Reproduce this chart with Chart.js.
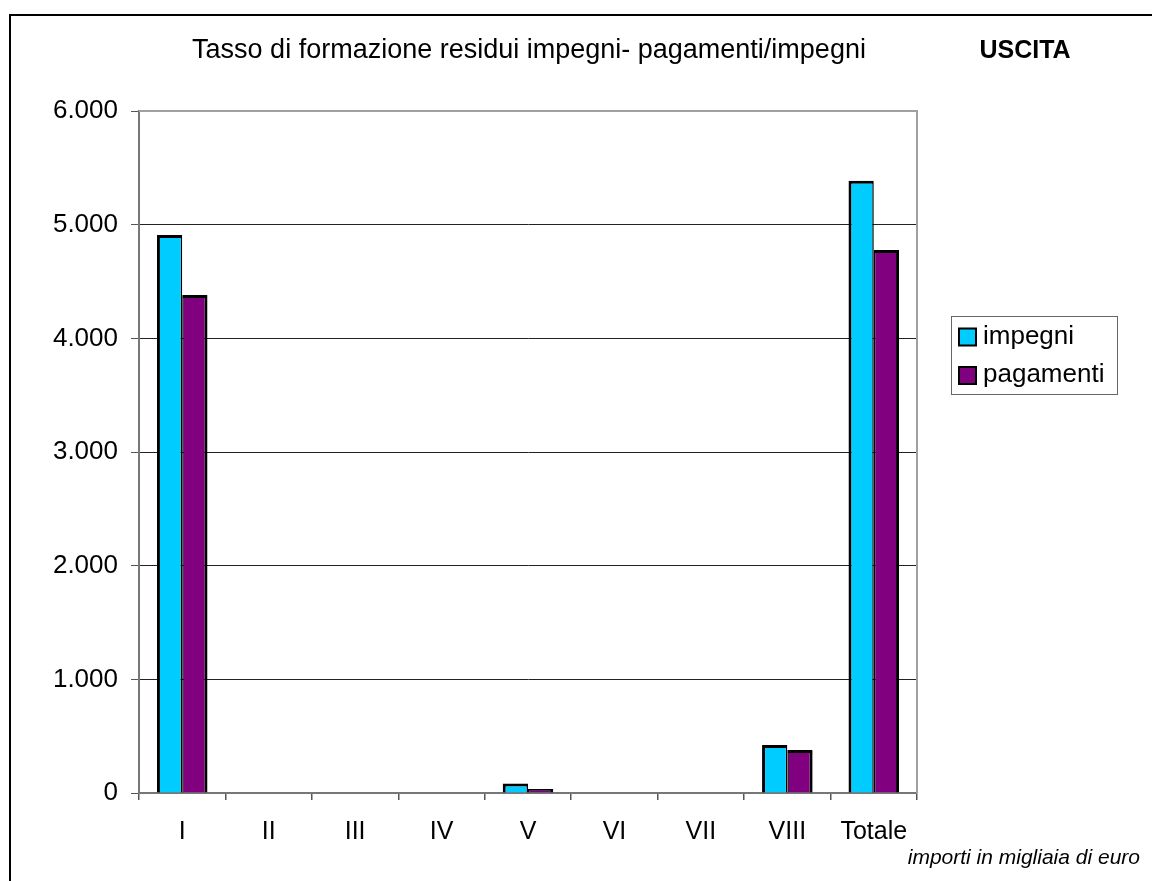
<!DOCTYPE html>
<html>
<head>
<meta charset="utf-8">
<script src="https://cdn.jsdelivr.net/npm/chart.js@4/dist/chart.umd.min.js"></script>
<style>
  body { margin: 0; background: #fff; }
  canvas { display: block; }
</style>
</head>
<body>
<canvas id="grafico" width="1152" height="881"></canvas>
<script>
const FONT = '"Liberation Sans", Arial, sans-serif';

const categorie = ['I', 'II', 'III', 'IV', 'V', 'VI', 'VII', 'VIII', 'Totale'];
const impegni = [4910, 0, 0, 0, 84, 0, 0, 422, 5387];
const pagamenti = [4381, 0, 0, 0, 35, 0, 0, 378, 4777];
const tickValori = [0, 1000, 2000, 3000, 4000, 5000, 6000];

const titolo = 'Tasso di formazione residui impegni- pagamenti/impegni';
const etichetta = 'USCITA';
const nota = 'importi in migliaia di euro';

const formatta = (v) => String(v).replace(/\B(?=(\d{3})+(?!\d))/g, '.');

// cornice, titolo, legenda e nota
const decorazioni = {
  id: 'decorazioni',
  afterDraw(chart) {
    const ctx = chart.ctx;
    const area = chart.chartArea;
    ctx.save();

    ctx.strokeStyle = '#000';
    ctx.lineWidth = 2;
    ctx.strokeRect(10, 15, 1300, 1000);

    // bordo area del grafico (alto e destra)
    ctx.strokeStyle = '#a0a0a0';
    ctx.lineWidth = 2;
    ctx.beginPath();
    ctx.moveTo(area.left, area.top);
    ctx.lineTo(area.right, area.top);
    ctx.lineTo(area.right, area.bottom);
    ctx.stroke();

    ctx.fillStyle = '#000';
    ctx.textBaseline = 'alphabetic';
    ctx.textAlign = 'center';
    ctx.font = '27px ' + FONT;
    ctx.fillText(titolo, (area.left + area.right) / 2 + 1, 58);
    ctx.font = 'bold 25px ' + FONT;
    ctx.fillText(etichetta, 1025, 58);

    // legenda
    ctx.strokeStyle = '#666';
    ctx.lineWidth = 1;
    ctx.strokeRect(951.5, 316.5, 166, 78);
    ctx.textAlign = 'left';
    ctx.textBaseline = 'middle';
    ctx.font = '26px ' + FONT;
    chart.data.datasets.forEach((ds, i) => {
      const y = 336.5 + i * 38.5;
      ctx.fillStyle = ds.backgroundColor;
      ctx.fillRect(959, y - 8, 17, 17);
      ctx.strokeStyle = '#000';
      ctx.lineWidth = 2;
      ctx.strokeRect(959, y - 8, 17, 17);
      ctx.fillStyle = '#000';
      ctx.fillText(ds.label, 983, y);
    });

    ctx.textAlign = 'right';
    ctx.textBaseline = 'alphabetic';
    ctx.font = 'italic 21px ' + FONT;
    ctx.fillText(nota, 1140, 864);
    ctx.restore();
  }
};

new Chart(document.getElementById('grafico'), {
  type: 'bar',
  data: {
    labels: categorie,
    datasets: [
      {
        label: 'impegni',
        data: impegni,
        backgroundColor: '#00CCFF',
        borderColor: '#000',
        borderWidth: { top: 3, left: 3, right: 1.5, bottom: 0 },
        borderSkipped: 'start'
      },
      {
        label: 'pagamenti',
        data: pagamenti,
        backgroundColor: '#800080',
        borderColor: '#000',
        borderWidth: { top: 3, left: 1.5, right: 3, bottom: 0 },
        borderSkipped: 'start'
      }
    ]
  },
  options: {
    responsive: false,
    animation: false,
    layout: { padding: { top: 111, right: 235, bottom: 0, left: 0 } },
    plugins: {
      legend: { display: false },
      tooltip: { enabled: false }
    },
    datasets: {
      bar: { categoryPercentage: 0.585, barPercentage: 1 }
    },
    scales: {
      x: {
        afterFit: (scale) => { scale.height = 88; },
        grid: {
          drawOnChartArea: false,
          drawTicks: true,
          tickLength: 7,
          color: '#555',
          lineWidth: 1.5
        },
        border: { color: '#777', width: 2 },
        ticks: {
          color: '#000',
          padding: 17,
          font: { family: FONT, size: 25 }
        }
      },
      y: {
        min: 0,
        max: 6000,
        afterFit: (scale) => { scale.width = 139; },
        afterBuildTicks: (scale) => {
          scale.ticks = tickValori.map((v) => ({ value: v }));
        },
        grid: {
          color: '#222',
          lineWidth: 1,
          tickLength: 8,
          tickColor: '#555'
        },
        border: { color: '#777', width: 2 },
        ticks: {
          color: '#000',
          padding: 13,
          font: { family: FONT, size: 26 },
          callback: (v) => formatta(v)
        }
      }
    }
  },
  plugins: [decorazioni]
});
</script>
</body>
</html>
